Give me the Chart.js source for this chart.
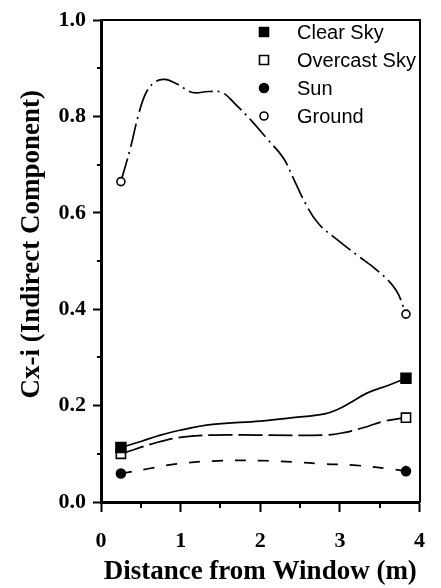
<!DOCTYPE html>
<html lang="en">
<head>
  <meta charset="UTF-8" />
  <title>Cx-i vs distance from window</title>
  <style>
    body { margin: 0; background: #fff; }
    canvas { display: block; }
  </style>
</head>
<body>
  <canvas id="cxChart" width="441" height="588"></canvas>

  <script src="https://cdn.jsdelivr.net/npm/chart.js"></script>
  <script>
    // values (x in m, y = indirect component)
    const seriesNames = ['Clear Sky', 'Overcast Sky', 'Sun', 'Ground'];

    const clearX = [0.25, 0.51, 0.71, 0.99, 1.40, 2.00, 2.41, 2.81, 2.97, 3.13, 3.34, 3.62, 3.83];
    const clearY = [0.113, 0.126, 0.137, 0.149, 0.161, 0.168, 0.175, 0.183, 0.192, 0.206, 0.226, 0.243, 0.257];

    const overcastX = [0.25, 0.71, 0.99, 1.40, 2.00, 2.81, 3.05, 3.29, 3.54, 3.83];
    const overcastY = [0.100, 0.124, 0.134, 0.139, 0.139, 0.139, 0.144, 0.154, 0.167, 0.175];

    const sunX = [0.25, 0.59, 0.95, 1.40, 2.00, 2.41, 2.81, 3.21, 3.62, 3.83];
    const sunY = [0.059, 0.069, 0.079, 0.085, 0.086, 0.083, 0.079, 0.076, 0.069, 0.064];

    const groundX = [0.25, 0.37, 0.47, 0.57, 0.69, 0.81, 0.95, 1.15, 1.35, 1.52, 1.68, 1.88,
                     2.08, 2.29, 2.41, 2.57, 2.73, 2.97, 3.21, 3.46, 3.70, 3.83];
    const groundY = [0.665, 0.735, 0.803, 0.851, 0.873, 0.877, 0.868, 0.850, 0.852, 0.850, 0.827, 0.793,
                     0.755, 0.714, 0.674, 0.619, 0.578, 0.544, 0.513, 0.482, 0.441, 0.390];

    const xTicks = [0, 1, 2, 3, 4];
    const yTicks = [0.0, 0.2, 0.4, 0.6, 0.8, 1.0];

    function pts(xs, ys) {
      return xs.map((x, i) => ({ x: x, y: ys[i] }));
    }

    // markers only at the measured end points
    function endRadius(r) {
      return ctx => (ctx.dataIndex === 0 || ctx.dataIndex === ctx.dataset.data.length - 1) ? r : 0;
    }

    const serif = "'Liberation Serif', 'Times New Roman', serif";
    const sans = "'Liberation Sans', Arial, sans-serif";

    const styles = [
      { style: 'rect', fill: '#000', r: 7, dash: [] },
      { style: 'rect', fill: '#fff', r: 6.5, dash: [24, 6] },
      { style: 'circle', fill: '#000', r: 4.5, dash: [11, 12] },
      { style: 'circle', fill: '#fff', r: 4, dash: [24, 5, 2, 5] }
    ];

    const allData = [pts(clearX, clearY), pts(overcastX, overcastY), pts(sunX, sunY), pts(groundX, groundY)];

    const datasets = seriesNames.map((name, i) => ({
      label: name,
      data: allData[i],
      borderColor: '#000',
      borderWidth: 1.7,
      borderDash: styles[i].dash,
      backgroundColor: styles[i].fill,
      pointStyle: styles[i].style,
      pointBackgroundColor: styles[i].fill,
      pointBorderColor: '#000',
      pointBorderWidth: 1.6,
      pointRadius: endRadius(styles[i].r),
      tension: 0.4,
      fill: false
    }));

    // legend box at top right inside the plot, markers only
    const insideLegend = {
      id: 'insideLegend',
      afterDatasetsDraw(chart) {
        const c = chart.ctx;
        c.save();
        c.font = '20px ' + sans;
        c.textBaseline = 'middle';
        c.fillStyle = '#000';
        const mx = 264, tx = 297, y0 = 32, dy = 28;
        seriesNames.forEach((name, i) => {
          const y = y0 + i * dy;
          const s = styles[i];
          c.lineWidth = 1.6;
          c.strokeStyle = '#000';
          c.fillStyle = s.fill;
          c.beginPath();
          if (s.style === 'rect') c.rect(mx - 4.5, y - 4.5, 9, 9);
          else c.arc(mx, y, s.r, 0, Math.PI * 2);
          c.fill();
          c.stroke();
          c.fillStyle = '#000';
          c.fillText(name, tx, y + 1);
        });
        c.restore();
      }
    };

    // minor (unlabelled) ticks, shorter than the major ones
    const minorTicks = {
      id: 'minorTicks',
      afterDraw(chart) {
        const c = chart.ctx;
        const xs = chart.scales.x, ys = chart.scales.y;
        const area = chart.chartArea;
        c.save();
        c.strokeStyle = '#000';
        c.lineWidth = 2;
        [0.1, 0.3, 0.5, 0.7, 0.9].forEach(v => {
          const py = Math.round(ys.getPixelForValue(v));
          c.beginPath();
          c.moveTo(area.left - 4, py);
          c.lineTo(area.left, py);
          c.stroke();
        });
        [0.5, 1.5, 2.5, 3.5].forEach(v => {
          const px = Math.round(xs.getPixelForValue(v));
          c.beginPath();
          c.moveTo(px, area.bottom);
          c.lineTo(px, area.bottom + 6);
          c.stroke();
        });
        c.restore();
      }
    };

    const frameScale = {
      type: 'linear',
      display: true,
      ticks: { display: false },
      grid: { display: false, drawTicks: false },
      border: { display: true, color: '#000', width: 2 }
    };

    new Chart(document.getElementById('cxChart').getContext('2d'), {
      type: 'line',
      data: { datasets: datasets },
      plugins: [insideLegend, minorTicks],
      options: {
        responsive: false,
        animation: false,
        layout: { padding: 0 },
        plugins: { legend: { display: false }, tooltip: { enabled: false } },
        scales: {
          x: {
            type: 'linear',
            position: 'bottom',
            min: 0,
            max: 4,
            afterBuildTicks: s => { s.ticks = xTicks.map(v => ({ value: v })); },
            afterFit: s => { s.height = 86; },
            ticks: {
              color: '#000',
              font: { family: serif, size: 22, weight: 'bold' },
              padding: 16,
              maxRotation: 0,
              callback: v => String(v)
            },
            grid: { display: true, drawOnChartArea: false, drawTicks: true, tickLength: 10, tickWidth: 2, tickColor: '#000' },
            border: { display: true, color: '#000', width: 3 },
            title: {
              display: true,
              text: 'Distance from Window (m)',
              color: '#000',
              font: { family: serif, size: 27, weight: 'bold' },
              padding: { top: 0, bottom: 0 }
            }
          },
          y: {
            type: 'linear',
            position: 'left',
            min: 0,
            max: 1,
            afterBuildTicks: s => { s.ticks = yTicks.map(v => ({ value: v })); },
            afterFit: s => { s.width = 101; },
            ticks: {
              color: '#000',
              font: { family: serif, size: 22, weight: 'bold' },
              padding: 7,
              callback: v => Number(v).toFixed(1)
            },
            grid: { display: true, drawOnChartArea: false, drawTicks: true, tickLength: 8, tickWidth: 2, tickColor: '#000' },
            border: { display: true, color: '#000', width: 3 },
            title: {
              display: true,
              text: '     Cx-i (Indirect Component)',
              color: '#000',
              font: { family: serif, size: 27, weight: 'bold' },
              padding: { top: 16, bottom: 0 }
            }
          },
          xTop: Object.assign({}, frameScale, { position: 'top', min: 0, max: 4, afterFit: s => { s.height = 14; } }),
          yRight: Object.assign({}, frameScale, { position: 'right', min: 0, max: 1, afterFit: s => { s.width = 10; } })
        }
      }
    });
  </script>
</body>
</html>
